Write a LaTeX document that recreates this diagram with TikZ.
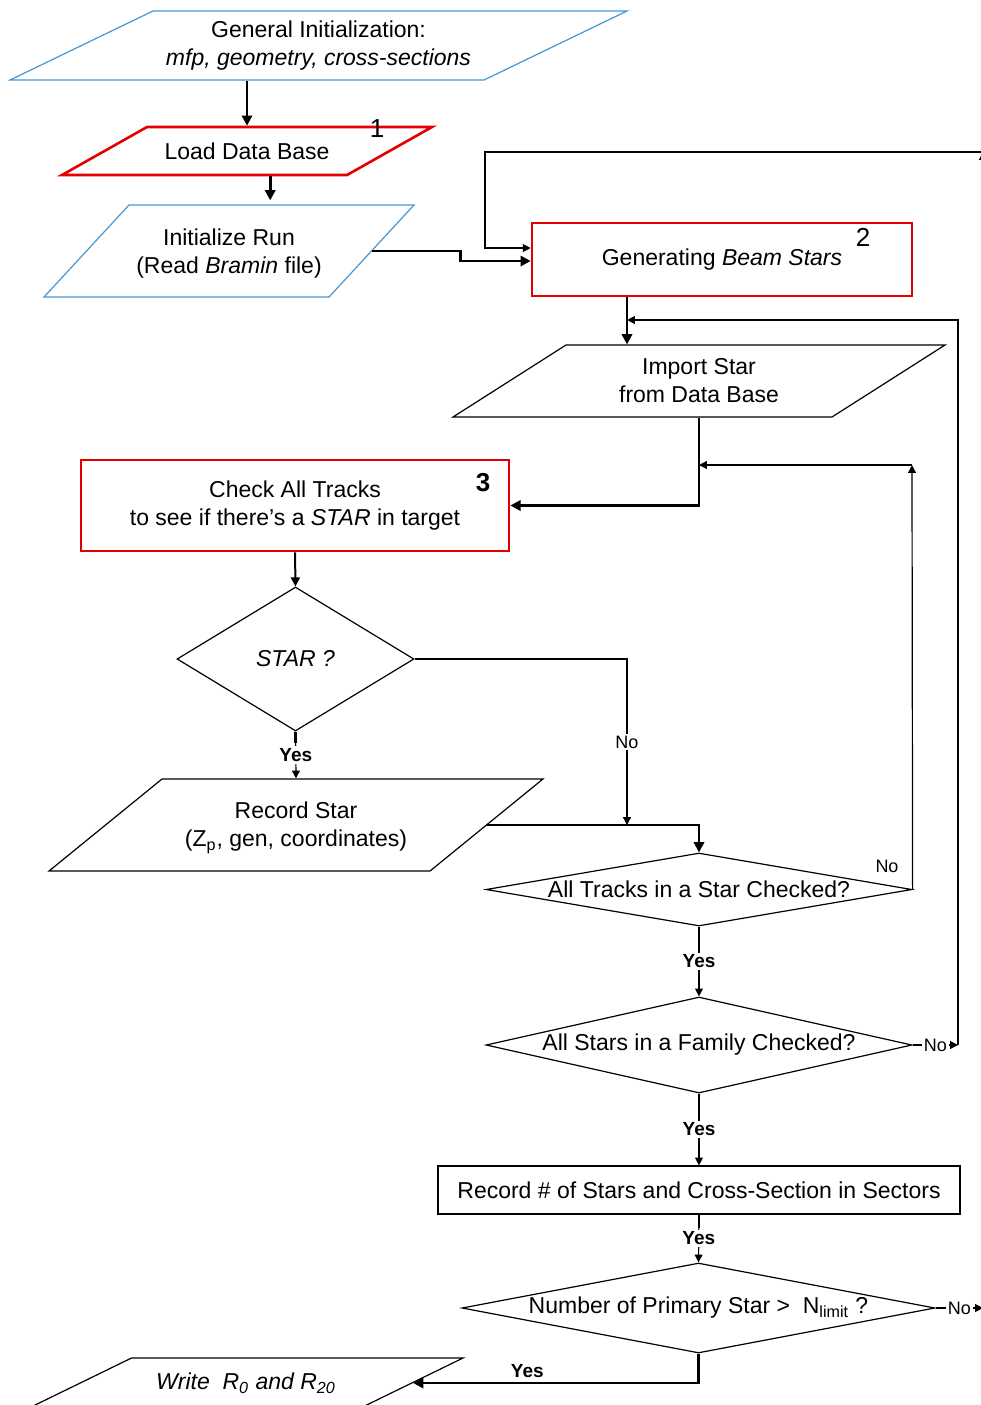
\documentclass[tikz,border=0pt]{standalone}
\usepackage{fontspec}
\setmainfont{Liberation Sans}
\usetikzlibrary{shapes.geometric,arrows.meta,calc}

\definecolor{ioblue}{RGB}{70,150,210}
\definecolor{boxred}{RGB}{228,0,0}

\tikzset{
  every node/.style={font=\fontsize{11.5}{14}\selectfont, inner sep=0pt, align=center},
  box/.style={draw, rectangle, line width=0.6pt},
  redbox/.style={draw=boxred, rectangle, line width=1.3pt},
  % slanted in/out box: angles, then body width and height of the shape
  io/.style n args={4}{draw, trapezium, trapezium left angle=#1, trapezium right angle=#2,
    text width=#3, text height=#4, text depth=0pt, minimum width=0pt, minimum height=0pt,
    line width=0.6pt},
  dec/.style={draw, diamond, line width=0.6pt},
  thn/.style={line width=0.6pt},
  thk/.style={line width=1.4pt},
  arr/.style={-{Triangle[length=3pt 1.5, width=3pt 1.5]}},
  nolbl/.style={fill=white, inner sep=1pt, font=\fontsize{9}{10}\selectfont},
  yeslbl/.style={fill=white, inner sep=1pt, font=\bfseries\fontsize{9.5}{10}\selectfont},
  num/.style={font=\fontsize{13}{15}\selectfont},
}

\begin{document}
\begin{tikzpicture}[x=0.5pt,y=-0.5pt]
  \useasboundingbox (0,0) rectangle (981,1405);
  \clip (0,0) rectangle (981,1405);

  %%% blocks
  \node[io={25.76}{154.24}{165.5pt}{34.5pt}, draw=ioblue,
    label=center:{General Initialization:\\\textit{mfp, geometry, cross-sections}}] (gi) at (318.5,45.5) {};
  \node[io={29.45}{150.55}{100pt}{24pt}, draw=boxred, line width=1.3pt,
    label=center:{Load Data Base}] (ldb) at (247,151) {};
  \node[num] (n1) at (377,129) {1};
  \node[io={47.27}{132.73}{100pt}{46pt}, draw=ioblue,
    label={[yshift=-1.5pt]center:{Initialize Run\\(Read \textit{Bramin} file)}}] (ir) at (229,251) {};

  \node[redbox, minimum width=190pt, minimum height=36.5pt] (gen) at (722,259.5)
    {Generating \textit{Beam Stars}};
  \node[num] (n2) at (863,237) {2};
  \node[io={32.5}{147.5}{133pt}{36pt},
    label=center:{Import Star\\from Data Base}] (imp) at (699,381) {};

  \node[redbox, minimum width=214pt, minimum height=45.5pt] (chk) at (295,505.5)
    {Check All Tracks\\to see if there's a \textit{STAR} in target};
  \node[num, font=\bfseries\fontsize{13}{15}\selectfont] (n3) at (483,483) {3};

  \node[dec, minimum width=118.5pt, minimum height=72pt, label=center:{\textit{STAR ?}}] (star) at (295.5,659) {};
  \node[io={39.16}{140.84}{134pt}{46pt},
    label={[yshift=-1.5pt]center:{Record Star\\(Z\textsubscript{p}, gen, coordinates)}}] (rec) at (296,825) {};

  \node[dec, minimum width=213pt, minimum height=36.5pt, label=center:{All Tracks in a Star Checked?}] (trk) at (699,889.5) {};
  \node[dec, minimum width=213pt, minimum height=48pt, label=center:{All Stars in a Family Checked?}] (fam) at (699,1045) {};
  \node[box, minimum width=261pt, minimum height=24pt] (rsec) at (699,1190)
    {Record \# of Stars and Cross-Section in Sectors};
  \node[dec, minimum width=236.5pt, minimum height=45pt,
    label=center:{Number of Primary Star >\ \ N\textsubscript{limit} ?}] (nlim) at (698.5,1308) {};
  \node[io={26}{154}{114.5pt}{25pt},
    label=center:{\textit{Write\ \ R\textsubscript{0} and R\textsubscript{20}}}] (wr) at (246,1383) {};

  %%% helper points
  \coordinate (ldbout) at ($(ldb.bottom side)+(68,0)$);
  \coordinate (bk) at (627,320);
  \coordinate (join) at (627,825);
  \coordinate (tn) at (912,465);
  \coordinate (fn) at (958,1045);
  \coordinate (rt) at (983,152);
  \coordinate (lp) at (485,152);

  %%% connectors
  \draw[thk,arr] (ldb.center |- gi.bottom side) -- (ldb.center |- ldb.top side);
  \draw[thk,arr] (ldbout) -- ([yshift=2pt]ldbout |- ir.top side);
  \draw[thk,arr] (ir.right side) -- ++(88,0) |- ([yshift=-0.75pt]gen.west);
  \draw[thk,arr] (bk |- gen.south) -- (bk |- imp.top side);
  \draw[thk,arr] (imp.center |- imp.bottom side) |- (chk.east);
  \draw[line width=1pt,arr] (chk.south) -- (star.north);

  \draw[thk] (star.south) -- ++(0,11);
  \draw[thn,arr] (star.south) -- node[yeslbl]{Yes} (rec.north);
  \draw[thn,arr] (star.east) -| node[nolbl,pos=0.75]{No} (join);
  \draw[thk,arr] (rec.right side) -| (trk.north);

  \draw[thn,arr] (trk.east) -- (tn);
  \draw[thn,arr] (tn) -- (imp.center |- tn);
  \node[font=\fontsize{9}{10}\selectfont] (trkno) at (887,866) {No};
  \draw[thk] (trk.south) -- ++(0,22);
  \draw[thn,arr] (trk.south) -- node[yeslbl]{Yes} (fam.north);

  \draw[thn,arr] (fam.east) -- node[nolbl]{No} (fn);
  \draw[thn,arr] (fn) |- (bk);
  \draw[thk] (fam.south) -- ++(0,24);
  \draw[thn,arr] (fam.south) -- node[yeslbl]{Yes} (rsec.north);

  \draw[thk] (rsec.south) -- ++(0,13);
  \draw[thn,arr] (rsec.south) -- node[yeslbl]{Yes} (nlim.north);

  % back to the top, round the right edge
  \draw[thn,arr] (nlim.east) -- node[nolbl]{No} (nlim.east -| rt);
  \draw[thn,arr] (nlim.east -| rt) -- (rt);
  \draw[thn,arr] (rt) -- (lp) |- ([yshift=5.75pt]gen.west);

  \draw[thk,arr] (nlim.south) |- node[pos=0.8, above=2pt, font=\bfseries\fontsize{9.5}{10}\selectfont]{Yes} (wr.right side);
\end{tikzpicture}
\end{document}
